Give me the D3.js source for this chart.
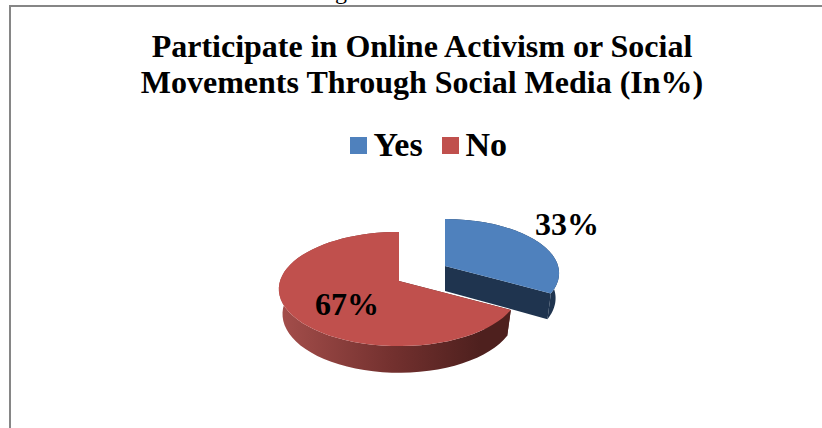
<!DOCTYPE html>
<html>
<head>
<meta charset="utf-8">
<script src="https://cdn.jsdelivr.net/npm/d3@7/dist/d3.min.js"></script>
<style>
  html, body { margin: 0; padding: 0; background: #fff; overflow: hidden; }
  text { font-family: "Liberation Serif", serif; font-weight: bold; fill: #000; }
</style>
</head>
<body>
<svg id="chart" width="822" height="428"></svg>
<script>
// Chart content
const titleLines = ["Participate in Online Activism or Social", "Movements Through Social Media (In%)"];
const categories = ["Yes", "No"];
const shares = [33, 67];
const topColors = ["#4f81bd", "#c0504d"];
const cutColors = ["#1f344f", "#4e201e"];

const svg = d3.select("#chart");
const defs = svg.append("defs");

// Frame of the chart: only its top and left edges fall inside the page
svg.append("path")
  .attr("d", "M10,428V6H822")
  .attr("fill", "none").attr("stroke", "#868686").attr("stroke-width", 2);

// Descender of the line of text that sits above the frame
svg.append("text").attr("x", 335).attr("y", -1).attr("font-size", 24)
  .style("font-weight", "normal").text("g");

// Title
svg.append("g").selectAll("text").data(titleLines).join("text")
  .attr("x", 422).attr("y", (d, i) => 56.5 + i * 36)
  .attr("text-anchor", "middle").attr("font-size", 32)
  .text(d => d);

// Legend
const legendX = d3.scaleOrdinal().domain(categories).range([350, 442]);
const legend = svg.append("g").selectAll("g").data(categories).join("g")
  .attr("transform", d => `translate(${legendX(d)},137)`);
legend.append("rect").attr("width", 17).attr("height", 17)
  .attr("fill", (d, i) => topColors[i]);
legend.append("text").attr("x", 23.5).attr("y", 18.5)
  .attr("font-size", 34).text(d => d);

// Tilted pie: a circle on a receding plane, so the near half reads larger than
// the far half and the lower rim is a little narrower than the upper one
const cx = 399, cy = 281, rx = 119, ry = 56, persp = 0.14, depth = 25, lowerRim = 0.97;
const project = (angle, r = 1, h = 0) => {
  const s = r * (h ? lowerRim : 1);
  const X = Math.sin(angle) * s, Y = -Math.cos(angle) * s;
  const w = 1 - persp * Y;
  return [cx + rx * X / w, cy + (ry * Y + h * depth) / w];
};
const line = d3.line();
const arcSteps = (a0, a1) => d3.range(0, 61).map(i => a0 + (a1 - a0) * i / 60);

const arcs = d3.pie().sort(null).value(d => d)(shares);

// Shading along the outer wall of the larger slice
const grad = defs.append("linearGradient").attr("id", "redWall")
  .attr("gradientUnits", "userSpaceOnUse").attr("x1", 280).attr("x2", 480).attr("y1", 0).attr("y2", 0);
grad.append("stop").attr("offset", "0%").attr("stop-color", "#a44e4b");
grad.append("stop").attr("offset", "55%").attr("stop-color", "#74312f");
grad.append("stop").attr("offset", "100%").attr("stop-color", "#4e201e");

// Per-slice explosion offset and radius
const explode = [[46, -15], [0, 0]];
const radius = [0.95, 1];
const wallFill = [cutColors[0], "url(#redWall)"];

const slices = svg.append("g").selectAll("g").data(arcs).join("g")
  .attr("transform", (d, i) => `translate(${explode[i]})`);

slices.each(function (d, i) {
  const g = d3.select(this);
  const r = radius[i];
  const steps = arcSteps(d.startAngle, d.endAngle);
  const apex = project(0, 0), apexLow = project(0, 0, 1);
  // cut faces
  [d.startAngle, d.endAngle].forEach(a => {
    g.append("path").attr("fill", cutColors[i])
      .attr("d", line([apex, project(a, r), project(a, r, 1), apexLow]) + "Z");
  });
  // outer wall
  const wall = steps.map(a => project(a, r))
    .concat(steps.slice().reverse().map(a => project(a, r, 1)));
  g.append("path").attr("fill", wallFill[i]).attr("d", line(wall) + "Z");
  // top face
  g.append("path").attr("fill", topColors[i])
    .attr("d", line([apex].concat(steps.map(a => project(a, r)))) + "Z");
});

// Value labels
const labelPos = [[567, 235], [347, 315]];
svg.append("g").selectAll("text").data(arcs).join("text")
  .attr("x", (d, i) => labelPos[i][0]).attr("y", (d, i) => labelPos[i][1])
  .attr("text-anchor", "middle").attr("font-size", 32)
  .text(d => d.value + "%");
</script>
</body>
</html>
